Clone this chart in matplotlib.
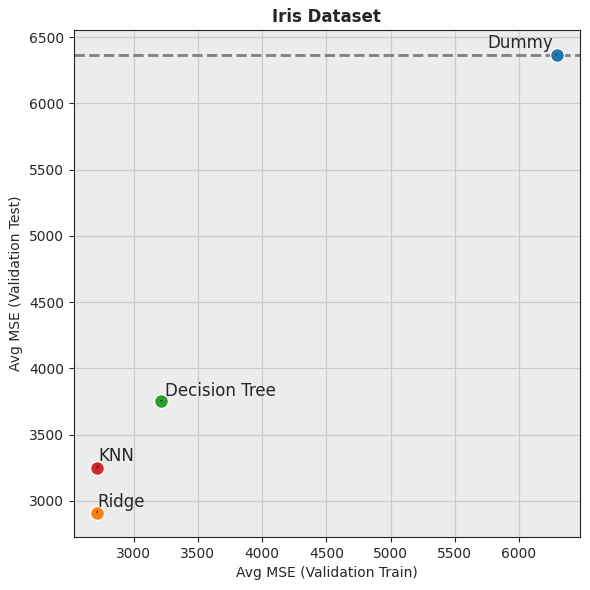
import matplotlib
matplotlib.use("Agg")
import matplotlib.pyplot as plt

models = ["Dummy", "Ridge", "Decision Tree", "KNN"]
train_mse = [6296, 2712, 3210, 2712]
test_mse = [6364, 2910, 3754, 3249]
colors = ["#1f77b4", "#ff7f0e", "#2ca02c", "#d62728"]
label_pos = [(6268, 6415), (2719, 2955), (3242, 3793), (2727, 3300)]
label_ha = ["right", "left", "left", "left"]
label_rel = [(1, 0), (0, 0), (0, 0), (0, 0)]

plt.rcParams["text.color"] = "#262626"
plt.rcParams["axes.labelcolor"] = "#262626"
plt.rcParams["xtick.color"] = "#262626"
plt.rcParams["ytick.color"] = "#262626"

fig, ax = plt.subplots(figsize=(5.9, 5.9), dpi=100)
ax.set_facecolor("#ececec")
ax.grid(True, color="#cccccc", linewidth=0.9)
ax.set_axisbelow(True)

for m, x, y, c in zip(models, train_mse, test_mse, colors):
    ax.scatter(x, y, s=100, color=c, edgecolor="white", linewidth=1, zorder=3)

ax.axhline(test_mse[0], color="gray", linestyle="--", linewidth=2, zorder=2)

for m, x, y, (tx, ty), ha, rel in zip(models, train_mse, test_mse, label_pos, label_ha, label_rel):
    ax.annotate(m, xy=(x, y), xytext=(tx, ty), fontsize=12, ha=ha, va="baseline",
                arrowprops=dict(arrowstyle="-", color="black", lw=0.6,
                                shrinkA=0, shrinkB=0, relpos=rel),
                zorder=4)

ax.set_xlim(2533, 6475)
ax.set_ylim(2729, 6553)
ax.set_xticks(range(3000, 6001, 500))
ax.set_yticks(range(3000, 6501, 500))
ax.set_xlabel("Avg MSE (Validation Train)", fontsize=10)
ax.set_ylabel("Avg MSE (Validation Test)", fontsize=10)
ax.set_title("Iris Dataset", fontsize=12, fontweight="bold")
for s in ax.spines.values():
    s.set_color("#222222")
ax.tick_params(labelsize=10)

fig.subplots_adjust(left=0.125, right=0.983, top=0.949, bottom=0.09)
fig.savefig("out.png", dpi=100)
